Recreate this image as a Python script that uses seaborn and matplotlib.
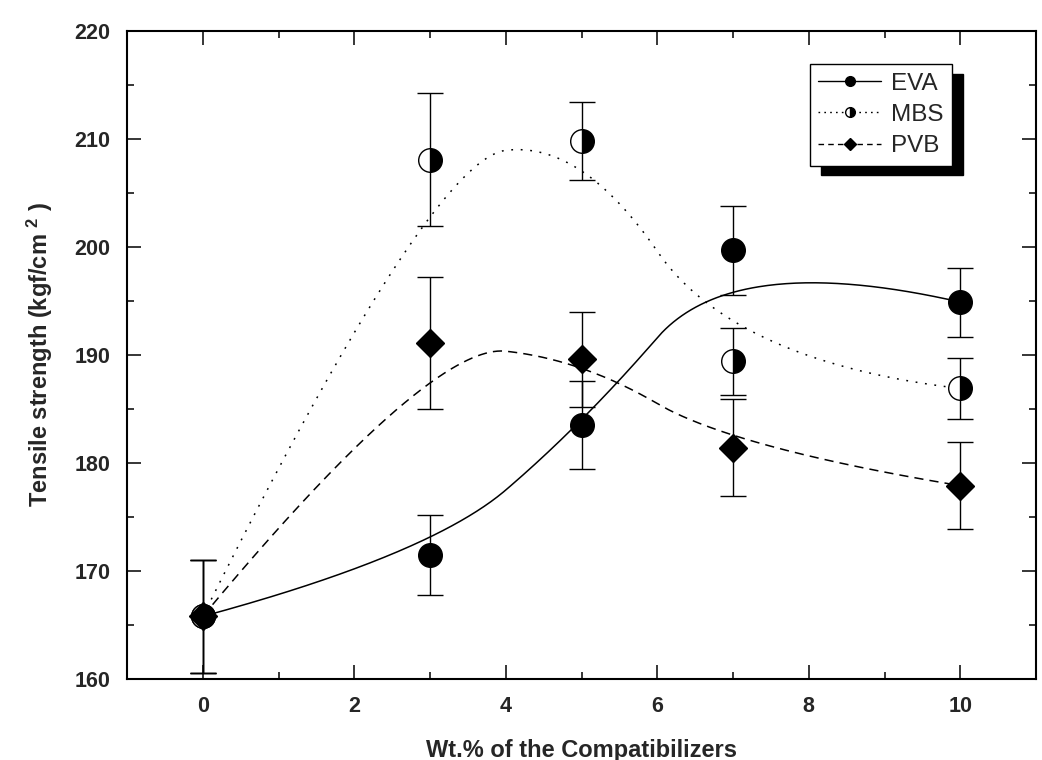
import numpy as np
import pandas as pd
import matplotlib
matplotlib.use("Agg")
import matplotlib.pyplot as plt
from matplotlib.lines import Line2D
from matplotlib.ticker import MultipleLocator
import seaborn as sns

# Compatibilizer loading (wt.%)
loading = [0, 3, 5, 7, 10]

# Tensile strength (kgf/cm^2) and standard deviations
eva_mean = [165.8, 171.5, 183.5, 199.7, 194.9]
eva_err = [5.2, 3.7, 4.1, 4.1, 3.2]
mbs_mean = [165.8, 208.1, 209.8, 189.4, 186.9]
mbs_err = [5.2, 6.2, 3.6, 3.1, 2.8]
pvb_mean = [165.8, 191.1, 189.6, 181.4, 177.9]
pvb_err = [5.2, 6.1, 4.4, 4.5, 4.0]

series_names = ["EVA", "MBS", "PVB"]
x_label = "Wt.% of the Compatibilizers"
y_label = "Tensile strength (kgf/cm $^{2}$ )"


def bspline(xs, ys, degree=2, n=400):
    """Clamped uniform B-spline using the data points as control points."""
    ctrl = np.column_stack([xs, ys]).astype(float)
    m = len(ctrl)
    inner = np.linspace(0, 1, m - degree + 1)[1:-1]
    knots = np.concatenate([np.zeros(degree + 1), inner, np.ones(degree + 1)])
    t = np.linspace(0, 1, n)
    nb = len(knots) - 1
    N = np.zeros((n, nb))
    for i in range(nb):
        N[:, i] = (t >= knots[i]) & (t < knots[i + 1])
    last = max(i for i in range(nb) if knots[i] < knots[i + 1])
    N[t >= 1.0, :] = 0
    N[t >= 1.0, last] = 1
    for k in range(1, degree + 1):
        Nn = np.zeros((n, nb - k))
        for i in range(nb - k):
            d1 = knots[i + k] - knots[i]
            d2 = knots[i + k + 1] - knots[i + 1]
            a = (t - knots[i]) / d1 * N[:, i] if d1 > 0 else 0.0
            b = (knots[i + k + 1] - t) / d2 * N[:, i + 1] if d2 > 0 else 0.0
            Nn[:, i] = a + b
        N = Nn
    pts = N @ ctrl
    return pts[:, 0], pts[:, 1]


sns.set_style("ticks")
plt.rcParams["font.family"] = ["Liberation Sans", "DejaVu Sans"]
plt.rcParams["mathtext.default"] = "regular"

fig = plt.figure(figsize=(10.42, 7.6), dpi=100)
ax = fig.add_axes([0.1219, 0.1066, 0.8724, 0.8526])

# Smooth connecting curves
frames = []
for name, ys in zip(series_names, [eva_mean, mbs_mean, pvb_mean]):
    cx, cy = bspline(loading, ys)
    frames.append(pd.DataFrame({"x": cx, "y": cy, "series": name}))
curves = pd.concat(frames, ignore_index=True)
dash_map = {"EVA": "", "MBS": (1.2, 5.0), "PVB": (6.0, 4.0)}
sns.lineplot(data=curves, x="x", y="y", style="series", dashes=dash_map,
             color="black", linewidth=1.1, estimator=None, sort=False,
             legend=False, ax=ax, zorder=2)

# Data points with error bars
styles = {
    "EVA": dict(marker="o", markersize=17, markerfacecolor="black",
                markeredgecolor="black"),
    "MBS": dict(marker="o", markersize=17, fillstyle="right",
                markerfacecolor="black", markerfacecoloralt="white",
                markeredgecolor="black"),
    "PVB": dict(marker="D", markersize=14.5, markerfacecolor="black",
                markeredgecolor="black"),
}
for name, ys, es in zip(series_names, [eva_mean, mbs_mean, pvb_mean],
                        [eva_err, mbs_err, pvb_err]):
    ax.errorbar(loading, ys, yerr=es, linestyle="none", ecolor="black",
                elinewidth=1.0, capsize=9.7, capthick=1.0, zorder=3,
                markeredgewidth=1.0, **styles[name])

ax.set_xlim(-1, 11)
ax.set_ylim(160, 220)
ax.xaxis.set_major_locator(MultipleLocator(2))
ax.xaxis.set_minor_locator(MultipleLocator(1))
ax.yaxis.set_major_locator(MultipleLocator(10))
ax.yaxis.set_minor_locator(MultipleLocator(5))
ax.tick_params(which="both", direction="in", top=True, right=True,
               width=1.1, color="black")
ax.tick_params(which="major", length=10, labelsize=15.5, pad=12)
ax.tick_params(which="minor", length=5)
for lab in ax.get_xticklabels() + ax.get_yticklabels():
    lab.set_fontweight("bold")
for sp in ax.spines.values():
    sp.set_linewidth(1.5)
    sp.set_color("black")

ax.set_xlabel(x_label, fontsize=17, fontweight="bold", labelpad=16)
ax.set_ylabel(y_label, fontsize=17, fontweight="bold", labelpad=14)

# Legend with line + marker handles
handles = [
    Line2D([], [], color="black", linewidth=1.0, linestyle="-",
           marker="o", markersize=7, markerfacecolor="black",
           markeredgecolor="black"),
    Line2D([], [], color="black", linewidth=1.0, linestyle=(0, (1.2, 3.0)),
           marker="o", markersize=7, fillstyle="right",
           markerfacecolor="black", markerfacecoloralt="white",
           markeredgecolor="black"),
    Line2D([], [], color="black", linewidth=1.0, linestyle=(0, (4.0, 3.0)),
           marker="D", markersize=6, markerfacecolor="black",
           markeredgecolor="black"),
]
leg = ax.legend(handles, series_names, loc="upper left",
                bbox_to_anchor=(0.751, 0.949), borderaxespad=0,
                fontsize=17.5, handlelength=2.6, handletextpad=0.4,
                labelspacing=0.38, borderpad=0.35, fancybox=False,
                frameon=True, edgecolor="black", framealpha=1,
                shadow={"color": "black", "alpha": 1, "ox": 8, "oy": -7})
leg.get_frame().set_linewidth(1.0)

fig.savefig("out.png", dpi=100)
